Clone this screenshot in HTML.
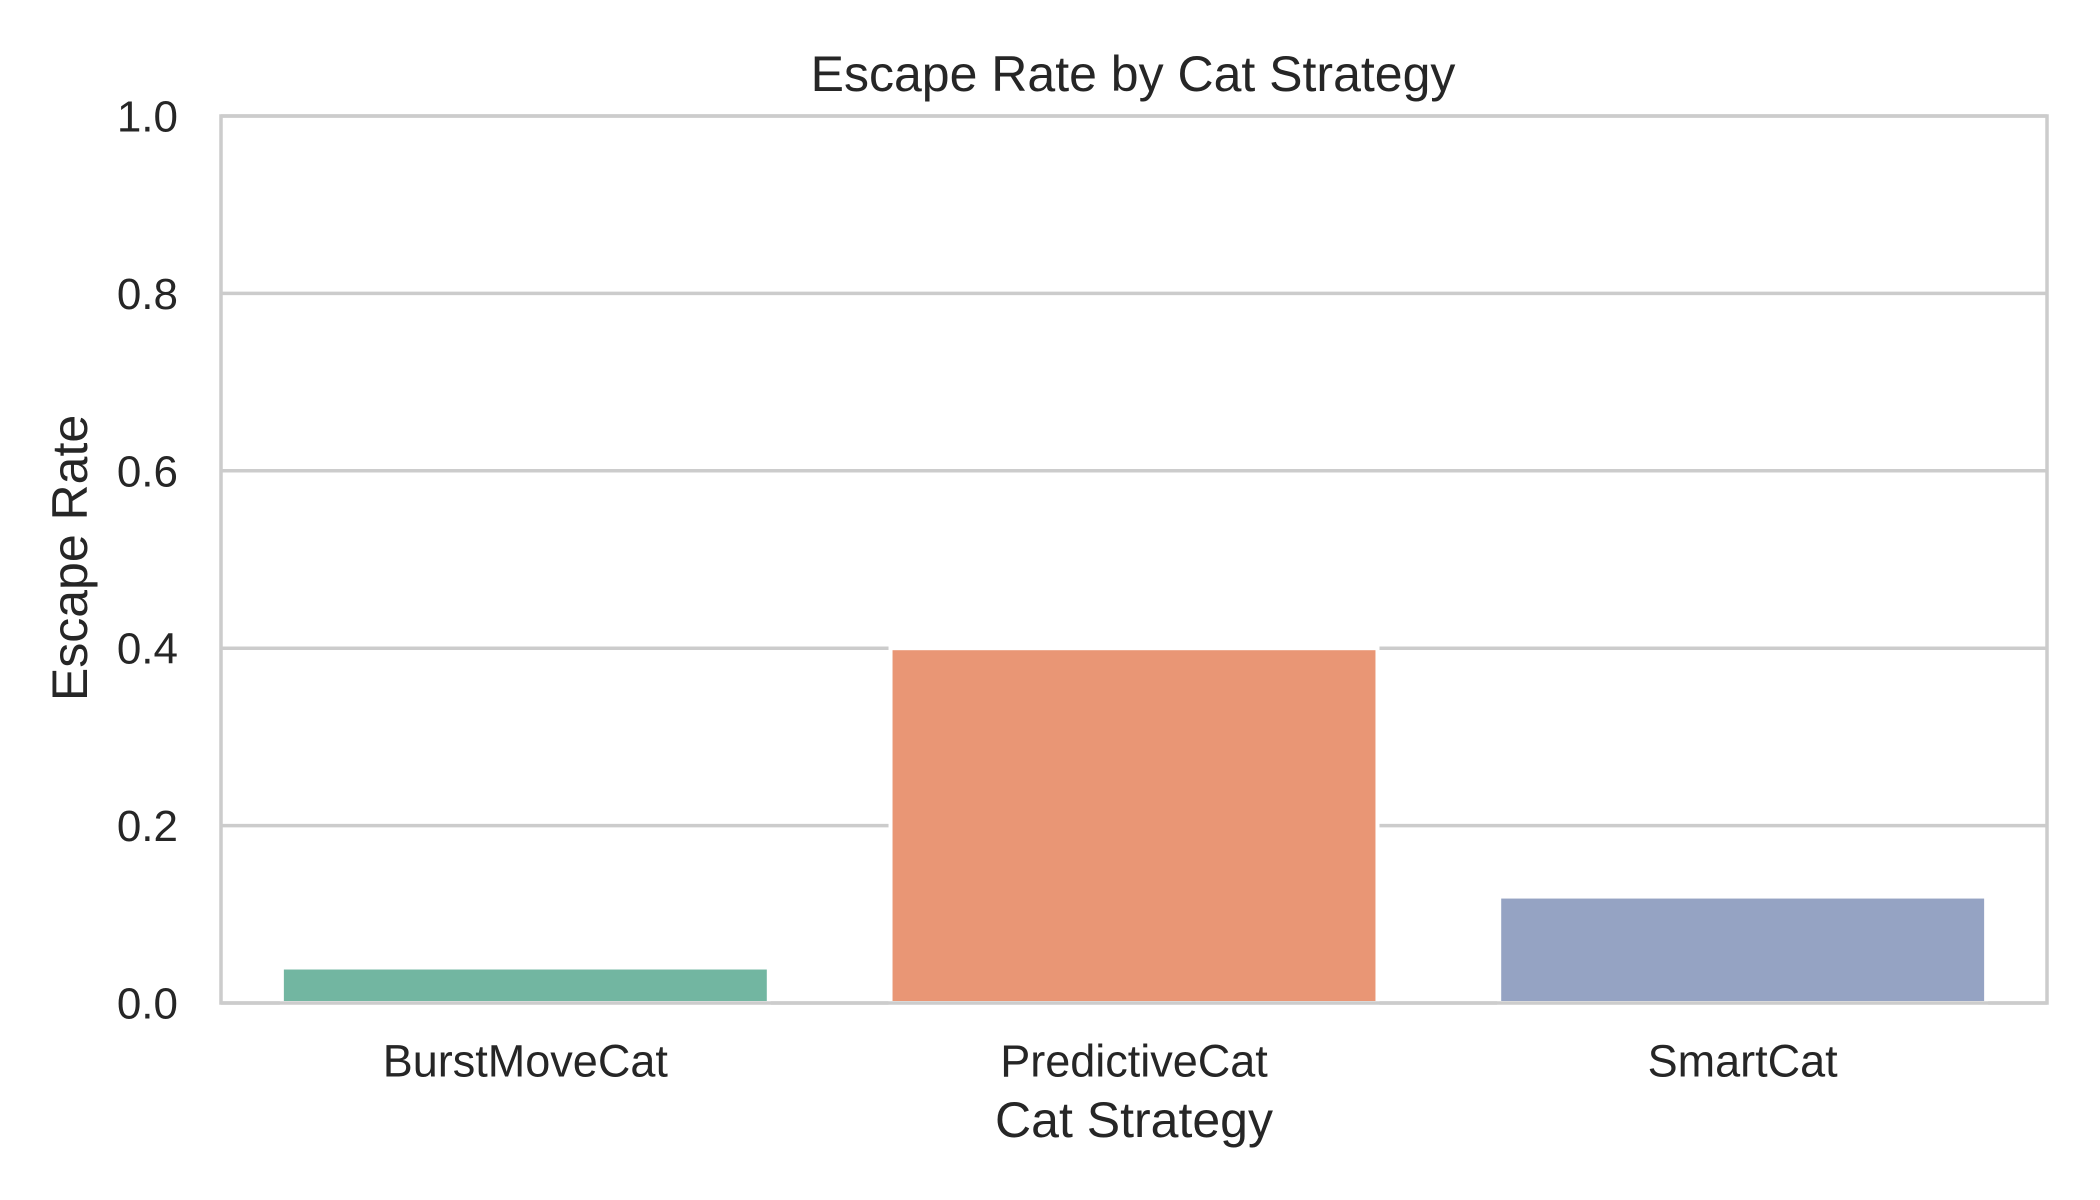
<!DOCTYPE html>
<html><head><meta charset="utf-8"><style>
html,body{margin:0;padding:0;background:#fff;}
svg{display:block;font-family:"Liberation Sans",Arial,sans-serif;fill:#262626;}
</style></head><body>
<svg id="chart" width="2100" height="1200" viewBox="0 0 2100 1200" xmlns="http://www.w3.org/2000/svg">
<text x="1133" y="74" font-size="50" text-anchor="middle" dominant-baseline="central">Escape Rate by Cat Strategy</text>
<g id="grid"></g>
<g id="bars"></g>
<rect x="221" y="116" width="1826" height="887" fill="none" stroke="#cccccc" stroke-width="3.5"/>
<g id="yticks"></g>
<g id="xticks"></g>
<text transform="translate(70,558) rotate(-90)" font-size="50" text-anchor="middle" dominant-baseline="central">Escape Rate</text>
<text x="1134" y="1120" font-size="50" text-anchor="middle" dominant-baseline="central">Cat Strategy</text>
</svg>
<script>
const categories = ["BurstMoveCat", "PredictiveCat", "SmartCat"];
const escapeRates = [0.04, 0.40, 0.12];
const barColors = ["#72b6a1", "#e99675", "#95a3c3"];
const yTickValues = [0.0, 0.2, 0.4, 0.6, 0.8, 1.0];
const yTickLabels = ["0.0", "0.2", "0.4", "0.6", "0.8", "1.0"];

const NS = "http://www.w3.org/2000/svg";
const L = 221, R = 2047, T = 116, B = 1003;
const yMin = 0, yMax = 1;
function yScale(v){ return B - (v - yMin) / (yMax - yMin) * (B - T); }
const band = (R - L) / categories.length;
function xCenter(i){ return L + band * (i + 0.5); }
const barW = band * 0.8;

const grid = document.getElementById("grid");
const yt = document.getElementById("yticks");
yTickValues.forEach((v, i) => {
  const y = yScale(v);
  const ln = document.createElementNS(NS, "line");
  ln.setAttribute("x1", L); ln.setAttribute("x2", R);
  ln.setAttribute("y1", y); ln.setAttribute("y2", y);
  ln.setAttribute("stroke", "#cccccc"); ln.setAttribute("stroke-width", "3.5");
  
  
  grid.appendChild(ln);
  const t = document.createElementNS(NS, "text");
  t.setAttribute("x", 178); t.setAttribute("y", y + 1);
  t.setAttribute("font-size", "44"); t.setAttribute("text-anchor", "end");
  t.setAttribute("dominant-baseline", "central");
  t.textContent = yTickLabels[i];
  
  
  yt.appendChild(t);
});

const bars = document.getElementById("bars");
const xt = document.getElementById("xticks");
categories.forEach((c, i) => {
  const x0 = xCenter(i) - barW / 2;
  const y0 = yScale(escapeRates[i]);
  const r = document.createElementNS(NS, "rect");
  r.setAttribute("x", x0); r.setAttribute("y", y0);
  r.setAttribute("width", barW); r.setAttribute("height", yScale(0) - y0);
  r.setAttribute("fill", barColors[i]);
  r.setAttribute("stroke", "#ffffff"); r.setAttribute("stroke-width", "4");
  
  
  bars.appendChild(r);
  const t = document.createElementNS(NS, "text");
  t.setAttribute("x", xCenter(i)); t.setAttribute("y", 1061);
  t.setAttribute("font-size", "45"); t.setAttribute("text-anchor", "middle");
  t.setAttribute("dominant-baseline", "central");
  t.textContent = c;
  
  
  xt.appendChild(t);
});
</script>
</body></html>
